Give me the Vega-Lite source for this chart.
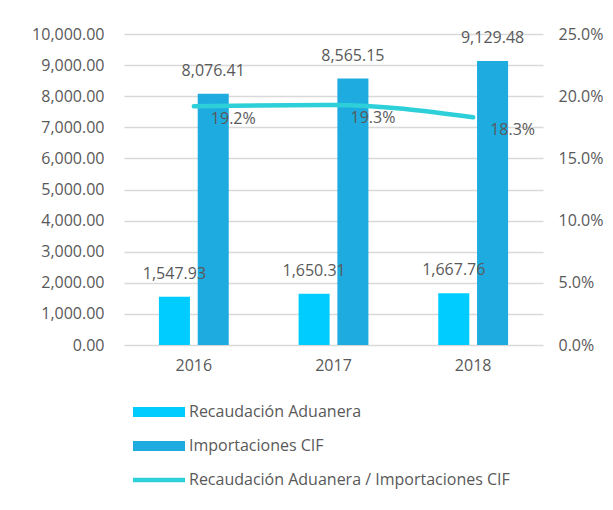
{
  "$schema": "https://vega.github.io/schema/vega-lite/v6.json",
  "autosize": {"type": "none"},
  "padding": {"left": 124, "top": 34, "right": 70, "bottom": 165},
  "width": 419,
  "height": 311,
  "background": "white",
  "config": {
    "font": "Open Sans",
    "view": {"stroke": null},
    "axis": {"labelFont": "Open Sans", "labelFontSize": 16, "labelColor": "#595959", "ticks": false, "domain": false, "title": null, "gridColor": "#D9D9D9", "gridWidth": 1.5},
    "legend": {"labelFont": "Open Sans", "labelFontSize": 16, "labelColor": "#595959"}
  },
  "data": {
    "values": [
      {"year": "2016", "Recaudación Aduanera": 1547.93, "Importaciones CIF": 8076.41, "ratio": 0.192},
      {"year": "2017", "Recaudación Aduanera": 1650.31, "Importaciones CIF": 8565.15, "ratio": 0.193},
      {"year": "2018", "Recaudación Aduanera": 1667.76, "Importaciones CIF": 9129.48, "ratio": 0.183}
    ]
  },
  "encoding": {
    "x": {"field": "year", "type": "nominal", "scale": {"paddingInner": 0.5, "paddingOuter": 0.25}, "axis": {"labelAngle": 0, "labelPadding": 12, "grid": false}}
  },
  "layer": [
    {
      "transform": [{"fold": ["Recaudación Aduanera", "Importaciones CIF"], "as": ["series", "value"]}],
      "encoding": {
        "y": {"field": "value", "type": "quantitative", "scale": {"domain": [0, 10000]}, "axis": {"values": [0,1000,2000,3000,4000,5000,6000,7000,8000,9000,10000], "format": ",.2f", "labelPadding": 20, "orient": "left"}},
        "xOffset": {"field": "series", "sort": ["Recaudación Aduanera", "Importaciones CIF"], "scale": {"paddingInner": 0.2}}
      },
      "layer": [
        {
          "mark": {"type": "bar"},
          "encoding": {
            "color": {"field": "series", "type": "nominal",
              "scale": {"domain": ["Recaudación Aduanera", "Importaciones CIF", "Recaudación Aduanera / Importaciones CIF"], "range": ["#00CCFF", "#1EACE0", "#2DCFD8"]},
              "legend": {
                "title": null, "orient": "none", "legendX": 9, "legendY": 352, "direction": "vertical",
                "symbolType": "M-1,-0.19H1V0.19H-1Z", "symbolSize": 2704, "symbolStrokeWidth": 0, "labelOffset": 4, "rowPadding": -16, "padding": 0, "labelLimit": 500,
                "encode": {"symbols": {"update": {"shape": {"signal": "datum.value === 'Recaudación Aduanera / Importaciones CIF' ? 'M-1,-0.09H1V0.09H-1Z' : 'M-1,-0.19H1V0.19H-1Z'"}}}}
              }
            }
          }
        },
        {
          "mark": {"type": "text", "baseline": "middle", "dy": -23, "fontSize": 16, "color": "#595959"},
          "encoding": {"text": {"field": "value", "type": "quantitative", "format": ",.2f"}}
        }
      ]
    },
    {
      "encoding": {
        "y": {"field": "ratio", "type": "quantitative", "scale": {"domain": [0, 0.25]}, "axis": {"orient": "right", "values": [0, 0.05, 0.1, 0.15, 0.2, 0.25], "format": ".1%", "labelPadding": 15, "grid": false}}
      },
      "layer": [
        {
          "mark": {"type": "line", "strokeWidth": 4.5, "strokeCap": "round", "interpolate": "monotone"},
          "encoding": {"color": {"datum": "Recaudación Aduanera / Importaciones CIF"}}
        },
        {
          "mark": {"type": "text", "align": "left", "baseline": "middle", "dx": 17, "dy": 13, "fontSize": 16, "color": "#595959"},
          "encoding": {"text": {"field": "ratio", "type": "quantitative", "format": ".1%"}}
        }
      ]
    }
  ],
  "resolve": {"scale": {"y": "independent"}}
}
